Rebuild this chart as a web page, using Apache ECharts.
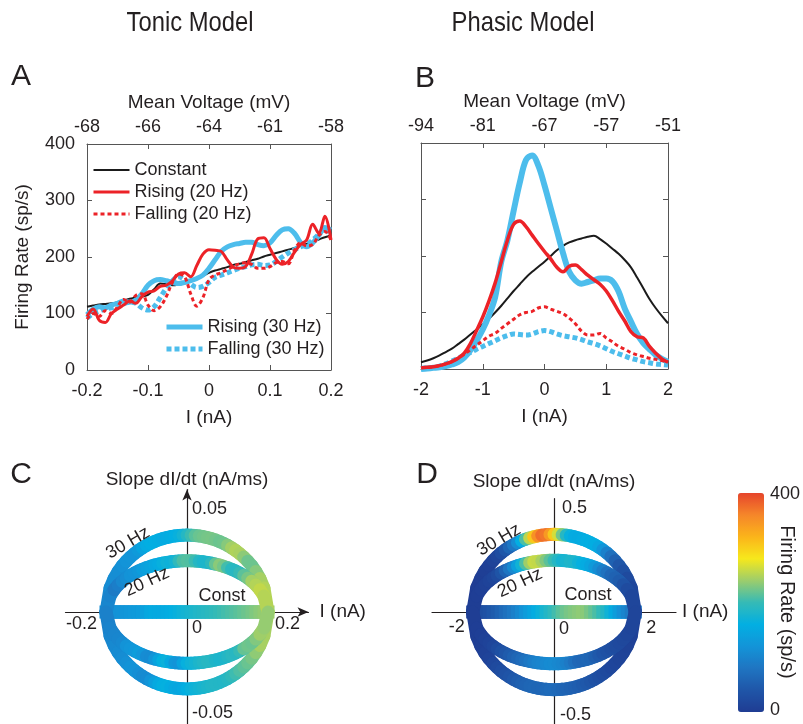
<!DOCTYPE html>
<html>
<head>
<meta charset="utf-8">
<script src="https://cdn.jsdelivr.net/npm/echarts@6/dist/echarts.min.js"></script>
<style>html,body{margin:0;padding:0;background:#fff}#chart{width:803px;height:724px}</style>
</head>
<body>
<div id="chart"></div>
<script>
// ---------------- DATA ----------------
// Panel A (tonic model): injected current I (nA)
const currentA = [-0.2,-0.19,-0.18,-0.17,-0.16,-0.15,-0.14,-0.13,-0.12,-0.11,-0.1,-0.09,-0.08,-0.07,-0.06,-0.05,-0.04,-0.03,-0.02,-0.01,0,0.01,0.02,0.03,0.04,0.05,0.06,0.07,0.08,0.09,0.1,0.11,0.12,0.13,0.14,0.15,0.16,0.17,0.18,0.19,0.2];
const constantA = [112,114,116,117,118,120,123,126,128,130,133,143,153,152,150,151,153,158,163,167,172,176,179,182,186,188,191,194,197,201,204,207,210,213,216,220,223,227,231,235,238];
const rising20A = [95,108,88,84,100,108,115,122,118,130,138,140,148,150,158,170,172,165,185,205,213,212,210,195,182,180,183,205,232,234,215,196,187,192,208,222,230,258,242,272,230];
const falling20A = [90,100,95,105,100,112,125,120,132,135,115,105,112,130,155,170,165,135,113,128,160,168,172,178,183,188,190,187,180,180,183,190,192,188,212,225,220,222,238,245,230];
const rising30A = [98,108,112,110,115,118,122,120,124,135,150,158,160,158,155,153,155,158,162,168,180,195,210,218,222,224,226,226,222,220,225,238,248,250,242,226,218,225,238,252,248];
const falling30A = [92,100,104,108,110,113,117,120,118,110,106,112,128,145,158,165,160,152,146,148,155,164,168,172,176,180,183,186,187,185,186,192,200,207,213,218,222,230,240,250,240];

// Panel B (phasic model)
const currentB = [-2,-1.9,-1.8,-1.7,-1.6,-1.5,-1.4,-1.3,-1.2,-1.1,-1,-0.9,-0.8,-0.7,-0.6,-0.5,-0.4,-0.3,-0.2,-0.1,0,0.1,0.2,0.3,0.4,0.5,0.6,0.7,0.8,0.9,1,1.1,1.2,1.3,1.4,1.5,1.6,1.7,1.8,1.9,2];
const constantB = [12,15,19,24,30,36,44,52,61,70,79,89,100,112,125,138,150,162,172,181,190,200,210,218,224,228,231,234,236,230,222,213,204,193,180,162,143,124,108,94,81];
const rising20B = [2,3,4,6,9,13,19,28,45,68,92,120,152,190,228,256,262,252,237,222,208,195,180,172,182,184,176,166,158,150,138,121,102,85,66,57,55,40,28,18,12];
const falling20B = [2,3,4,6,9,13,19,26,34,42,50,58,63,72,80,88,96,100,102,108,110,106,102,98,90,80,67,60,60,63,55,48,40,35,29,25,22,19,17,15,13];
const rising30B = [0,1,2,3,5,8,12,20,33,50,70,95,127,190,228,280,330,370,378,360,325,285,245,205,172,157,151,154,157,160,160,155,137,107,84,62,46,35,25,18,13];
const falling30B = [1,2,3,5,9,14,19,24,29,35,40,45,50,55,59,62,61,60,62,66,68,66,62,59,57,55,52,48,45,41,36,31,27,23,19,16,13,11,9,8,7];

// Tick labels
const rateTicks = ['0','100','200','300','400'];
const currentTicksA = ['-0.2','-0.1','0','0.1','0.2'];
const voltageTicksA = ['-68','-66','-64','-61','-58'];
const currentTicksB = ['-2','-1','0','1','2'];
const voltageTicksB = ['-94','-81','-67','-57','-51'];

// Panels C/D: slope of the sinusoidal sweep, as fraction of its peak, at each current sample
const slopeFraction = [0,0.312,0.436,0.527,0.6,0.661,0.714,0.76,0.8,0.835,0.866,0.893,0.917,0.937,0.954,0.968,0.98,0.989,0.995,0.999,1,0.999,0.995,0.989,0.98,0.968,0.954,0.937,0.917,0.893,0.866,0.835,0.8,0.76,0.714,0.661,0.6,0.527,0.436,0.312,0];
const peakSlopeC = [0.0377, 0.0251];   // 30 Hz, 20 Hz (nA/ms)
const peakSlopeD = [0.377, 0.251];
const currentMarksC = [-0.2, 0, 0.2];
const slopeMarksC = [0.05, -0.05];
const currentMarksD = [-2, 0, 2];
const slopeMarksD = [0.5, -0.5];
const colorbarLabels = ['0', '400'];
const colormap = ['#1f3c93','#1f56a8','#1f75c2','#1394d8','#02afe2','#35bab6','#9ccd6c','#f6e81c','#fbb41a','#f5862a','#e6452b'];

// ---------------- BUILD ----------------
const FONT = '"Liberation Sans", Arial, sans-serif';
const TXT = '#231f20';
const AX = '#555555';
const RED = '#ec2227';
const BLUE = '#4dbdec';
const BLACK = '#1b1b1b';

const pairs = (xs, ys) => xs.map((x, i) => [x, ys[i]]);

function boxX(grid, min, max, interval, pos, labels, name, nameGap, margin) {
  return {
    gridIndex: grid, type: 'value', min: min, max: max, interval: interval, position: pos,
    axisLine: {show: true, onZero: false, lineStyle: {color: AX, width: 1}},
    axisTick: {show: true, inside: true, length: 5, lineStyle: {color: AX}},
    splitLine: {show: false},
    axisLabel: {show: true, fontSize: 18, color: TXT, fontFamily: FONT, margin: margin,
      formatter: v => labels[Math.round((v - min) / interval)]},
    name: name, nameLocation: 'middle', nameGap: nameGap,
    nameTextStyle: {fontSize: 19, color: TXT, fontFamily: FONT}
  };
}
function boxY(grid, pos, labels, name) {
  return {
    gridIndex: grid, type: 'value', min: 0, max: 400, interval: 100, position: pos,
    axisLine: {show: true, onZero: false, lineStyle: {color: AX, width: 1}},
    axisTick: {show: true, inside: true, length: 5, lineStyle: {color: AX}},
    splitLine: {show: false},
    axisLabel: {show: !!labels, fontSize: 18, color: TXT, fontFamily: FONT, margin: 12,
      formatter: v => labels ? labels[Math.round(v / 100)] : ''},
    name: name || '', nameLocation: 'middle', nameGap: 55,
    nameTextStyle: {fontSize: 19, color: TXT, fontFamily: FONT}
  };
}
function crossX(grid, min, max, arrow, nameGap) {
  return {
    gridIndex: grid, type: 'value', min: min, max: max,
    axisLine: {show: true, onZero: true, symbol: arrow ? ['none', 'arrow'] : ['none', 'none'], symbolSize: [7, 11],
      lineStyle: {color: TXT, width: 1.2}},
    axisTick: {show: false}, splitLine: {show: false}, axisLabel: {show: false},
    name: 'I (nA)', nameLocation: 'end', nameGap: nameGap,
    nameTextStyle: {fontSize: 19, color: TXT, fontFamily: FONT}
  };
}
function crossY(grid, min, max, arrow, nameGap) {
  return {
    gridIndex: grid, type: 'value', min: min, max: max,
    axisLine: {show: true, onZero: true, symbol: arrow ? ['none', 'arrow'] : ['none', 'none'], symbolSize: [7, 11],
      lineStyle: {color: TXT, width: 1.2}},
    axisTick: {show: false}, splitLine: {show: false}, axisLabel: {show: false},
    name: 'Slope dI/dt (nA/ms)', nameLocation: 'end', nameGap: nameGap,
    nameTextStyle: {fontSize: 19, color: TXT, fontFamily: FONT}
  };
}

function line(name, xi, yi, xs, ys, color, width, dash, z) {
  return {
    type: 'line', name: name, xAxisIndex: xi, yAxisIndex: yi, data: pairs(xs, ys),
    symbol: 'none', showSymbol: false, smooth: 0.35, z: z, silent: true,
    lineStyle: {color: color, width: width, type: dash || 'solid'},
    itemStyle: {color: color}
  };
}

function ringSegments(xs, peak, up, down) {
  const out = [];
  for (let k = 0; k < xs.length - 1; k++) {
    out.push([xs[k], peak * slopeFraction[k], (up[k] + up[k + 1]) / 2, xs[k + 1], peak * slopeFraction[k + 1]]);
  }
  for (let k = 0; k < xs.length - 1; k++) {
    out.push([xs[k], -peak * slopeFraction[k], (down[k] + down[k + 1]) / 2, xs[k + 1], -peak * slopeFraction[k + 1]]);
  }
  return out;
}
function constSegments(xs, rate) {
  const out = [];
  for (let k = 0; k < xs.length - 1; k++) out.push([xs[k], 0, (rate[k] + rate[k + 1]) / 2, xs[k + 1], 0]);
  return out;
}
function segRender(width, cap) {
  return function (params, api) {
    const a = api.coord([api.value(0), api.value(1)]);
    const b = api.coord([api.value(3), api.value(4)]);
    return {type: 'line', shape: {x1: a[0], y1: a[1], x2: b[0], y2: b[1]},
      style: {stroke: api.visual('color'), lineWidth: width, lineCap: cap}};
  };
}
function seg(xi, yi, data, cap) {
  return {type: 'custom', xAxisIndex: xi, yAxisIndex: yi, data: data, silent: true,
    dimensions: ['x1', 'y1', 'rate', 'x2', 'y2'],
    encode: {x: [0, 3], y: [1, 4]}, renderItem: segRender(13, cap)};
}
// tick-mark labels of the crossing axes, placed at their axis values
function markLabels(xi, yi, marks, onX, place) {
  return {
    type: 'scatter', xAxisIndex: xi, yAxisIndex: yi, symbolSize: 1, silent: true, z: 20,
    itemStyle: {color: '#ffffff', opacity: 0},
    data: marks.map((m, i) => ({
      value: onX ? [m, 0] : [0, m],
      label: {show: true, position: 'inside', formatter: String(m), align: place[i][2], verticalAlign: 'middle',
        offset: [place[i][0], place[i][1]], fontSize: 18, color: TXT, opacity: 1,
        textBorderWidth: 0, textShadowBlur: 0, fontFamily: FONT}
    }))
  };
}

const series = [
  line('Constant', 0, 0, currentA, constantA, BLACK, 2, null, 3),
  line('Rising (30 Hz)', 0, 0, currentA, rising30A, BLUE, 5, null, 4),
  line('Falling (30 Hz)', 0, 0, currentA, falling30A, BLUE, 5, [5, 3], 4),
  line('Rising (20 Hz)', 0, 0, currentA, rising20A, RED, 3, null, 5),
  line('Falling (20 Hz)', 0, 0, currentA, falling20A, RED, 3, [4, 3], 5),
  line('Constant', 2, 1, currentB, constantB, BLACK, 2, null, 3),
  line('Rising (30 Hz)', 2, 1, currentB, rising30B, BLUE, 6, null, 4),
  line('Falling (30 Hz)', 2, 1, currentB, falling30B, BLUE, 5, [5, 3], 4),
  line('Rising (20 Hz)', 2, 1, currentB, rising20B, RED, 3.5, null, 5),
  line('Falling (20 Hz)', 2, 1, currentB, falling20B, RED, 3, [4, 3], 5),
  seg(4, 2, constSegments(currentA, constantA), 'square'),
  seg(4, 2, ringSegments(currentA, peakSlopeC[0], rising30A, falling30A), 'round'),
  seg(4, 2, ringSegments(currentA, peakSlopeC[1], rising20A, falling20A), 'round'),
  seg(5, 3, constSegments(currentB, constantB), 'square'),
  seg(5, 3, ringSegments(currentB, peakSlopeD[0], rising30B, falling30B), 'round'),
  seg(5, 3, ringSegments(currentB, peakSlopeD[1], rising20B, falling20B), 'round'),
  markLabels(4, 2, currentMarksC, true, [[-9, 12, 'right'], [5, 16, 'left'], [7, 12, 'left']]),
  markLabels(4, 2, slopeMarksC, false, [[5, -1, 'left'], [5, -1, 'left']]),
  markLabels(5, 3, currentMarksD, true, [[-8, 15, 'right'], [5, 17, 'left'], [11, 16, 'left']]),
  markLabels(5, 3, slopeMarksD, false, [[8, -1, 'left'], [6, 0, 'left']])
];

function txt(text, x, y, size, opts) {
  opts = opts || {};
  return {type: 'text', x: x, y: y, z: 100, rotation: opts.rot || 0, scaleX: opts.sx || 1, silent: true,
    style: {text: text, fontSize: size, fontFamily: FONT, fill: TXT,
      align: opts.align || 'center', verticalAlign: 'middle'}};
}

const legendText = {fontSize: 18, color: TXT, fontFamily: FONT};
const legendCommon = {orient: 'vertical', itemWidth: 36, itemHeight: 12, itemGap: 4, padding: 0,
  selectedMode: false, textStyle: legendText, itemStyle: {opacity: 0}, lineStyle: {width: 'inherit'}};
const option = {
  animation: false,
  backgroundColor: '#ffffff',
  grid: [
    {left: 87, top: 144, width: 244, height: 226, outerBoundsMode: 'none'},
    {left: 421, top: 143, width: 247, height: 226, outerBoundsMode: 'none'},
    {left: 65.5, top: 489.6, width: 243, height: 234.2, outerBoundsMode: 'none'},
    {left: 432, top: 498.7, width: 244, height: 225.2, outerBoundsMode: 'none'}
  ],
  xAxis: [
    boxX(0, -0.2, 0.2, 0.1, 'bottom', currentTicksA, 'I (nA)', 38, 12),
    boxX(0, -0.2, 0.2, 0.1, 'top', voltageTicksA, 'Mean Voltage (mV)', 32, 8),
    boxX(1, -2, 2, 1, 'bottom', currentTicksB, 'I (nA)', 38, 12),
    boxX(1, -2, 2, 1, 'top', voltageTicksB, 'Mean Voltage (mV)', 32, 8),
    crossX(2, -0.3, 0.3, true, 11),
    crossX(3, -3, 3, false, 6)
  ],
  yAxis: [
    boxY(0, 'left', rateTicks, 'Firing Rate (sp/s)'),
    boxY(1, 'left', null),
    crossY(2, -0.0548, 0.06, true, 0),
    crossY(3, -0.543, 0.55, false, 7),
    boxY(0, 'right', null),
    boxY(1, 'right', null)
  ],
  legend: [
    Object.assign({data: ['Constant', 'Rising (20 Hz)', 'Falling (20 Hz)'], left: 92, top: 161}, legendCommon),
    Object.assign({data: ['Rising (30 Hz)', 'Falling (30 Hz)'], left: 164, top: 318}, legendCommon)
  ],
  visualMap: {
    type: 'continuous', min: 0, max: 400, dimension: 2, seriesIndex: [10, 11, 12, 13, 14, 15],
    inRange: {color: colormap}, calculable: false, orient: 'vertical',
    left: 738, top: 493, itemWidth: 26, itemHeight: 219, padding: 0, hoverLink: false
  },
  series: series,
  graphic: [
    txt('Tonic Model', 190, 23, 28, {sx: 0.85}),
    txt('Phasic Model', 523, 23, 28, {sx: 0.85}),
    txt('A', 21, 77, 30),
    txt('B', 425, 79, 30),
    txt('C', 21, 475, 30),
    txt('D', 427, 475, 30),
    txt('30 Hz', 128, 543, 18, {rot: 30 * Math.PI / 180}),
    txt('20 Hz', 147, 582, 18, {rot: 25 * Math.PI / 180}),
    txt('Const', 222, 596, 18),
    txt('30 Hz', 499, 540, 18, {rot: 30 * Math.PI / 180}),
    txt('20 Hz', 520, 583, 18, {rot: 25 * Math.PI / 180}),
    txt('Const', 588, 595, 18),
    txt(colorbarLabels[1], 770, 494, 18, {align: 'left'}),
    txt(colorbarLabels[0], 770, 710, 18, {align: 'left'}),
    txt('Firing Rate (sp/s)', 787, 602, 20, {rot: -Math.PI / 2})
  ]
};

const chart = echarts.init(document.getElementById('chart'), null, {renderer: 'canvas', width: 803, height: 724});
chart.setOption(option);
</script>
</body>
</html>
